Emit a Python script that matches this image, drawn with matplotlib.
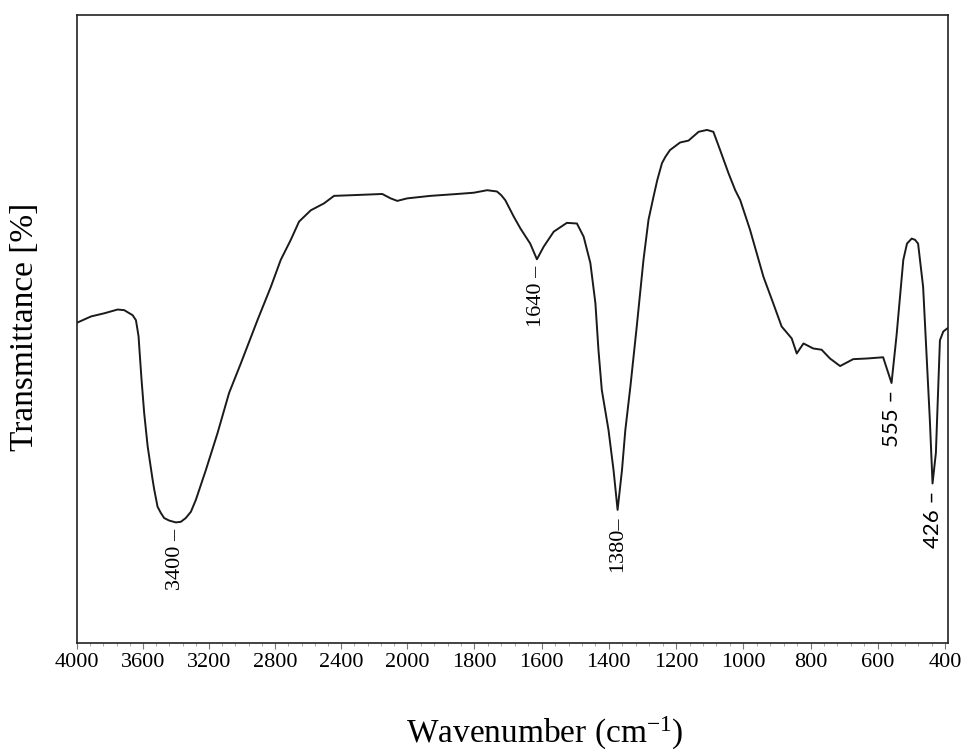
import numpy as np
import matplotlib.pyplot as plt
from matplotlib.ticker import FixedLocator

plt.rcParams['font.family'] = ['Liberation Serif', 'DejaVu Serif']
plt.rcParams['mathtext.fontset'] = 'custom'
plt.rcParams['mathtext.rm'] = 'Liberation Serif'
plt.rcParams['mathtext.it'] = 'Liberation Serif:italic'

# FTIR spectrum (wavenumber in cm-1, transmittance in arbitrary %)
wavenumber = [4000, 3915, 3835, 3754, 3714, 3663, 3643, 3633, 3627, 3623, 3609, 3593,
              3572, 3542, 3532, 3512, 3492, 3472, 3442, 3401, 3371, 3341, 3310, 3280,
              3220, 3149, 3079, 3008, 2907, 2826, 2766, 2705, 2655, 2584, 2504, 2443,
              2342, 2151, 2100, 2060, 2000,
              1931, 1851, 1802, 1762, 1733, 1720, 1708, 1683, 1663, 1634, 1614, 1594,
              1564, 1525, 1495, 1475, 1455, 1440, 1431, 1421, 1401, 1386, 1374, 1361,
              1351, 1336, 1317, 1297, 1282, 1267, 1256, 1242, 1232, 1218, 1203, 1188,
              1163, 1133, 1108, 1089, 1069, 1044, 1024, 1009, 980, 940, 911, 886, 856,
              841, 821, 792, 767, 742, 712, 673, 633, 584, 559, 544, 524, 513, 499, 489,
              480, 465, 455, 445, 437, 427, 420, 415, 405, 393]
transmittance = [51.0, 52.0, 52.5, 53.1, 53.0, 52.2, 51.4, 49.8, 48.8, 47.2, 41.9, 36.6,
                 31.3, 26.0, 24.4, 21.7, 20.7, 19.9, 19.5, 19.2, 19.3, 19.9, 20.9, 22.8,
                 27.5, 33.4, 39.8, 44.5, 51.4, 56.7, 61.0, 64.2, 67.1, 68.9, 70.0, 71.2,
                 71.3, 71.5, 70.8, 70.4, 70.8,
                 71.2, 71.5, 71.7, 72.1, 71.9, 71.3, 70.5, 67.9, 66.0, 63.6, 61.1, 63.1,
                 65.5, 66.9, 66.8, 64.7, 60.5, 54.1, 46.7, 40.3, 33.9, 27.5, 21.2, 27.5,
                 33.9, 40.8, 50.4, 61.0, 67.4, 71.1, 73.7, 76.4, 77.4, 78.5, 79.1, 79.7,
                 80.0, 81.4, 81.7, 81.4, 78.5, 74.8, 72.1, 70.5, 65.8, 58.3, 54.1, 50.4, 48.5,
                 46.1, 47.7, 46.9, 46.7, 45.3, 44.1, 45.2, 45.3, 45.5, 41.4, 49.0, 61.0, 63.6,
                 64.4, 64.2, 63.6, 56.7, 46.1, 35.5, 25.4, 30.3, 40.8, 48.2, 49.6, 50.1]

# labelled bands: text and where the trough sits on the drawn curve
peak_text = ['3400 \u2013', '1640 \u2013', '1380\u2013', '555 \u2013', '426 \u2013']
peak_pos = [3401, 1614, 1374, 559, 437]
peak_font = ['Liberation Serif', 'Liberation Serif', 'Liberation Serif', 'Lato', 'Lato']

major_ticks = [4000, 3600, 3200, 2800, 2400, 2000, 1800, 1600, 1400, 1200, 1000, 800, 600, 400]

# the spectrometer doubles the scale below 2000 cm-1
k = 2.036
def fwd(x):
    x = np.asarray(x, dtype=float)
    return np.where(x >= 2000, x, 2000 - k * (2000 - x))

def inv(y):
    y = np.asarray(y, dtype=float)
    return np.where(y >= 2000, y, 2000 - (2000 - y) / k)


fig = plt.figure(figsize=(9.62, 7.54), dpi=100)
ax = fig.add_axes([77/962, 1 - 643/754, (948 - 77)/962, (643 - 15)/754])

ax.plot(wavenumber, transmittance, color='#1a1a1a', lw=1.4)

ax.set_xscale('function', functions=(fwd, inv))
ax.set_xlim(4000, 391)
ax.set_ylim(0, 100)

minor = list(np.arange(4000, 2000, -80)) + list(np.arange(2000, 390, -40))
ax.xaxis.set_major_locator(FixedLocator(major_ticks))
ax.xaxis.set_minor_locator(FixedLocator(minor))
ax.set_xticklabels([str(t) for t in major_ticks])
ax.tick_params(axis='x', which='major', direction='out', length=4, width=0.8,
               color='#777777', labelsize=16, pad=3)
ax.tick_params(axis='x', which='minor', direction='out', length=2.5, width=0.6, color='#999999')
ax.tick_params(axis='y', left=False, labelleft=False)
for s in ax.spines.values():
    s.set_linewidth(1.2)
    s.set_color('#222222')

for txt, pos, fam in zip(peak_text, peak_pos, peak_font):
    yv = np.interp(pos, wavenumber[::-1], transmittance[::-1])
    ax.annotate(txt, (pos, yv), xytext=(0, -5), textcoords='offset points',
                rotation=90, ha='center', va='top', fontsize=16, family=fam)

fig.text(25/962, 1 - 327/754, 'Transmittance [%]', rotation=90,
         ha='center', va='center', fontsize=24)
fig.text(545/962, 1 - 743/754, 'Wavenumber (cm$^{-1}$)', ha='center',
         va='baseline', fontsize=24)

fig.savefig('out.png', dpi=100)
